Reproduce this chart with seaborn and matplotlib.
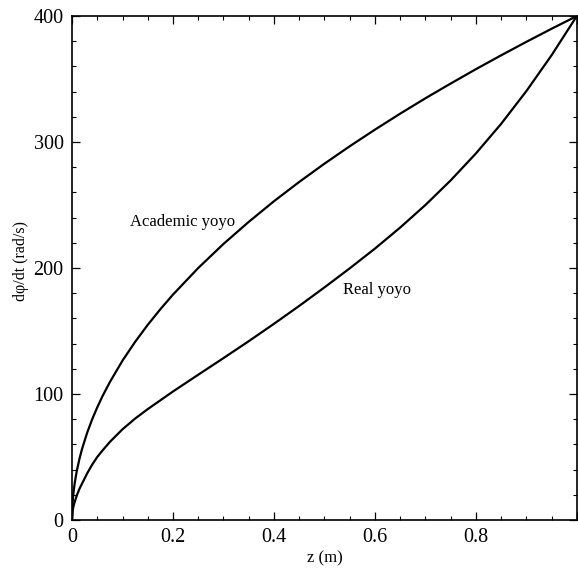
import matplotlib
matplotlib.use("Agg")
import matplotlib.pyplot as plt
from matplotlib.ticker import MultipleLocator, FixedLocator
import seaborn as sns
import pandas as pd

z_vals = [0, 0.001, 0.002, 0.003, 0.005, 0.0075, 0.01, 0.015, 0.02, 0.03, 0.04, 0.05,
          0.06, 0.075, 0.1, 0.125, 0.15, 0.175, 0.2, 0.25, 0.3, 0.35, 0.4, 0.45,
          0.5, 0.55, 0.6, 0.65, 0.7, 0.75, 0.8, 0.85, 0.9, 0.95, 1.0]
academic = [0, 12.6, 17.9, 21.9, 28.3, 34.6, 40, 49, 56.6, 69.3, 80, 89.4,
            98, 109.5, 126.5, 141.4, 154.9, 167.3, 178.9, 200, 219.1, 236.6, 253, 268.3,
            282.8, 296.6, 309.8, 322.5, 334.7, 346.4, 357.8, 368.8, 379.5, 389.9, 400]
real = [0, 6.5, 9, 11, 14, 17, 20, 25, 29, 37, 44, 50,
        55, 62, 72, 80.5, 88, 95, 102, 115.3, 128.5, 141.9, 155.7, 169.9,
        184.6, 199.7, 215.4, 232.1, 250, 269.5, 290.9, 314.4, 340.4, 368.9, 400]
series_names = ["Academic yoyo", "Real yoyo"]
x_ticks = [0, 0.2, 0.4, 0.6, 0.8]
x_ticklabels = ["0", "0.2", "0.4", "0.6", "0.8"]
y_ticks = [0, 100, 200, 300, 400]

df = pd.DataFrame({
    "z": z_vals * 2,
    "w": academic + real,
    "series": [series_names[0]] * len(z_vals) + [series_names[1]] * len(z_vals),
})

sns.set_theme(style="ticks")
plt.rcParams["font.family"] = ["Liberation Serif", "DejaVu Serif"]

fig = plt.figure(figsize=(5.78, 5.72), dpi=100)
ax = fig.add_axes([0.1246, 0.0909, 0.8734, 0.8811])

sns.lineplot(data=df, x="z", y="w", hue="series", palette=["black", "black"],
             linewidth=1.6, legend=False, ax=ax, sort=False, estimator=None)

ax.set_xlim(0, 1.0)
ax.set_ylim(0, 400)
ax.xaxis.set_major_locator(FixedLocator(x_ticks + [1.0]))
ax.set_xticklabels(x_ticklabels + [""])
ax.xaxis.set_minor_locator(MultipleLocator(0.05))
ax.yaxis.set_major_locator(FixedLocator(y_ticks))
ax.yaxis.set_minor_locator(MultipleLocator(20))

ax.tick_params(which="both", direction="in", top=True, right=True, color="black",
               labelcolor="black")
ax.tick_params(which="major", length=5.5, width=0.9, labelsize=14.5, pad=6)
ax.tick_params(which="minor", length=3, width=0.8)
for s in ax.spines.values():
    s.set_linewidth(1.2)
    s.set_color("black")

ax.set_xlabel("z (m)", fontsize=12, color="black")
ax.xaxis.set_label_coords(0.5, -0.06)
ax.set_ylabel("dφ/dt (rad/s)", fontsize=11.5, color="black")
ax.yaxis.set_label_coords(-0.086, 0.514)

ax.text(0.114, 236.5, series_names[0], fontsize=12, va="center", ha="left", color="black")
ax.text(0.537, 182.5, series_names[1], fontsize=12, va="center", ha="left", color="black")

fig.savefig("out.png", dpi=100)
